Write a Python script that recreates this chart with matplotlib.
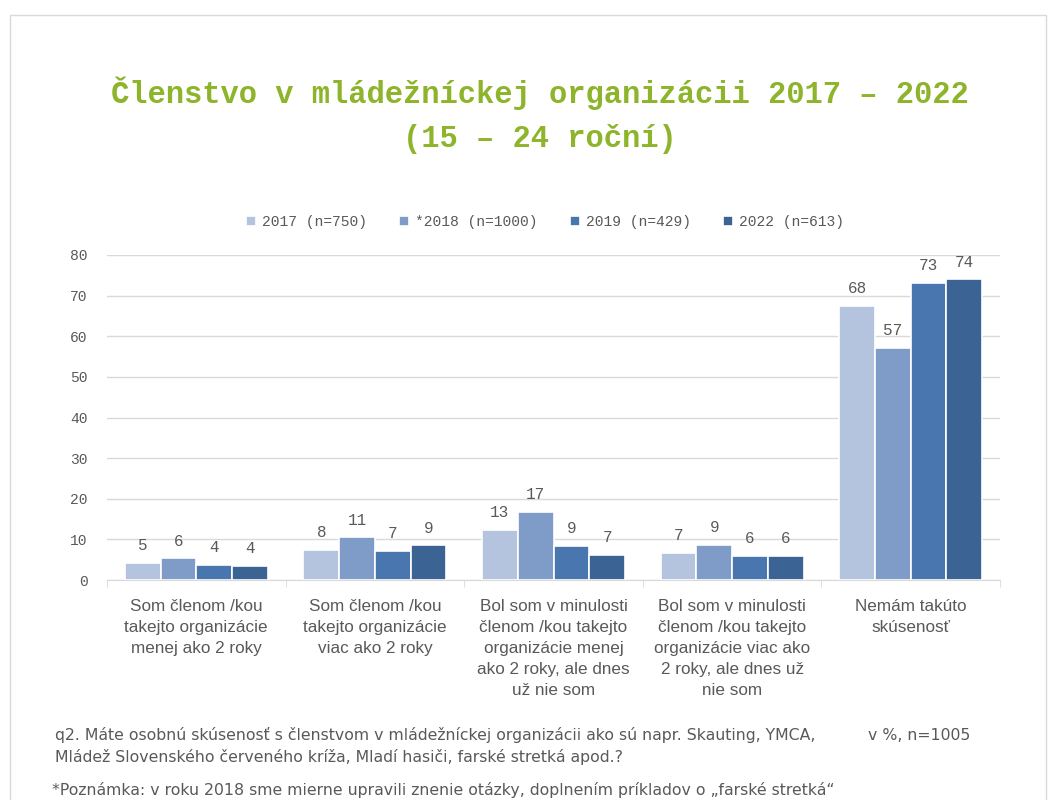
import matplotlib.pyplot as plt
import numpy as np
from matplotlib.patches import Rectangle

# kategórie a hodnoty (v %)
categories = [
    'Som členom /kou\ntakejto organizácie\nmenej ako 2 roky',
    'Som členom /kou\ntakejto organizácie\nviac ako 2 roky',
    'Bol som v minulosti\nčlenom /kou takejto\norganizácie menej\nako 2 roky, ale dnes\nuž nie som',
    'Bol som v minulosti\nčlenom /kou takejto\norganizácie viac ako\n2 roky, ale dnes už\nnie som',
    'Nemám takúto\nskúsenosť',
]
series = ['2017 (n=750)', '*2018 (n=1000)', '2019 (n=429)', '2022 (n=613)']
v2017 = [4.3, 7.4, 12.3, 6.6, 67.5]
v2018 = [5.3, 10.5, 16.7, 8.6, 57.1]
v2019 = [3.7, 7.1, 8.4, 5.9, 73.1]
v2022 = [3.5, 8.5, 6.2, 5.9, 74.0]
lab2017 = ['5', '8', '13', '7', '68']
lab2018 = ['6', '11', '17', '9', '57']
lab2019 = ['4', '7', '9', '6', '73']
lab2022 = ['4', '9', '7', '6', '74']
yticks = [0, 10, 20, 30, 40, 50, 60, 70, 80]

colors = ['#b4c4df', '#7f9bc7', '#4976ae', '#3b6393']
grey = '#595959'
mono = 'Liberation Mono'
sans = 'Liberation Sans'

fig = plt.figure(figsize=(10.56, 8), dpi=100)
fig.patches.append(Rectangle((10/1056, -0.01), 1036/1056, 1 - 15/800 + 0.01,
                             transform=fig.transFigure, fill=False,
                             edgecolor='#d9d9d9', linewidth=1))

ax = fig.add_axes([107/1056, 1 - 580/800, 893/1056, 325/800])

x = np.arange(len(categories))
w = 0.2
vals = [v2017, v2018, v2019, v2022]
labs = [lab2017, lab2018, lab2019, lab2022]
for i in range(4):
    bars = ax.bar(x + (i - 1.5)*w, vals[i], width=w, color=colors[i],
                  edgecolor='white', linewidth=1.2, label=series[i], zorder=3)
    ax.bar_label(bars, labels=labs[i], padding=7, color=grey,
                 fontsize=11.5, family=mono)

ax.set_xlim(-0.5, len(categories) - 0.5)
ax.set_ylim(0, 80)
ax.set_yticks(yticks)
ax.set_yticklabels([str(t) for t in yticks], family=mono, fontsize=10.5, color=grey)
ax.tick_params(axis='y', length=0, pad=14)
ax.grid(axis='y', color='#d9d9d9', linewidth=1, zorder=0)

ax.set_xticks(x)
ax.set_xticklabels(categories, family=sans, fontsize=12.3, color=grey,
                   linespacing=1.5, va='top')
ax.tick_params(axis='x', which='major', length=0, pad=14)
ax.set_xticks(np.arange(-0.5, len(categories)), minor=True)
ax.tick_params(axis='x', which='minor', length=5, color='#d9d9d9')

for s in ['top', 'right', 'left']:
    ax.spines[s].set_visible(False)
ax.spines['bottom'].set_color('#d9d9d9')

# titulok
fig.text(540/1056, 1 - 115/800,
         'Členstvo v mládežníckej organizácii 2017 – 2022\n(15 – 24 roční)',
         ha='center', va='center', family=mono, fontweight='bold',
         fontsize=22, color='#8db42a', linespacing=1.6)

# legenda
handles, labels = ax.get_legend_handles_labels()
leg = fig.legend(handles, labels, loc='center', ncol=4,
                 bbox_to_anchor=(545/1056, 1 - 222/800), frameon=False,
                 handlelength=0.7, handleheight=0.7, handletextpad=0.4,
                 columnspacing=2.2, prop={'family': mono, 'size': 10.5})
for t in leg.get_texts():
    t.set_color(grey)

# poznámky
fig.text(55/1056, 1 - 746/800,
         'q2. Máte osobnú skúsenosť s členstvom v mládežníckej organizácii ako sú napr. Skauting, YMCA,\n'
         'Mládež Slovenského červeného kríža, Mladí hasiči, farské stretká apod.?',
         ha='left', va='center', family='DejaVu Sans', fontsize=11.3, color=grey,
         linespacing=1.5)
fig.text(970/1056, 1 - 735/800, 'v %, n=1005', ha='right', va='center',
         family='DejaVu Sans', fontsize=11.3, color=grey)
fig.text(52/1056, 1 - 790/800,
         '*Poznámka: v roku 2018 sme mierne upravili znenie otázky, doplnením príkladov o „farské stretká“',
         ha='left', va='center', family='DejaVu Sans', fontsize=11.3, color=grey)

fig.savefig('out.png', dpi=100)
